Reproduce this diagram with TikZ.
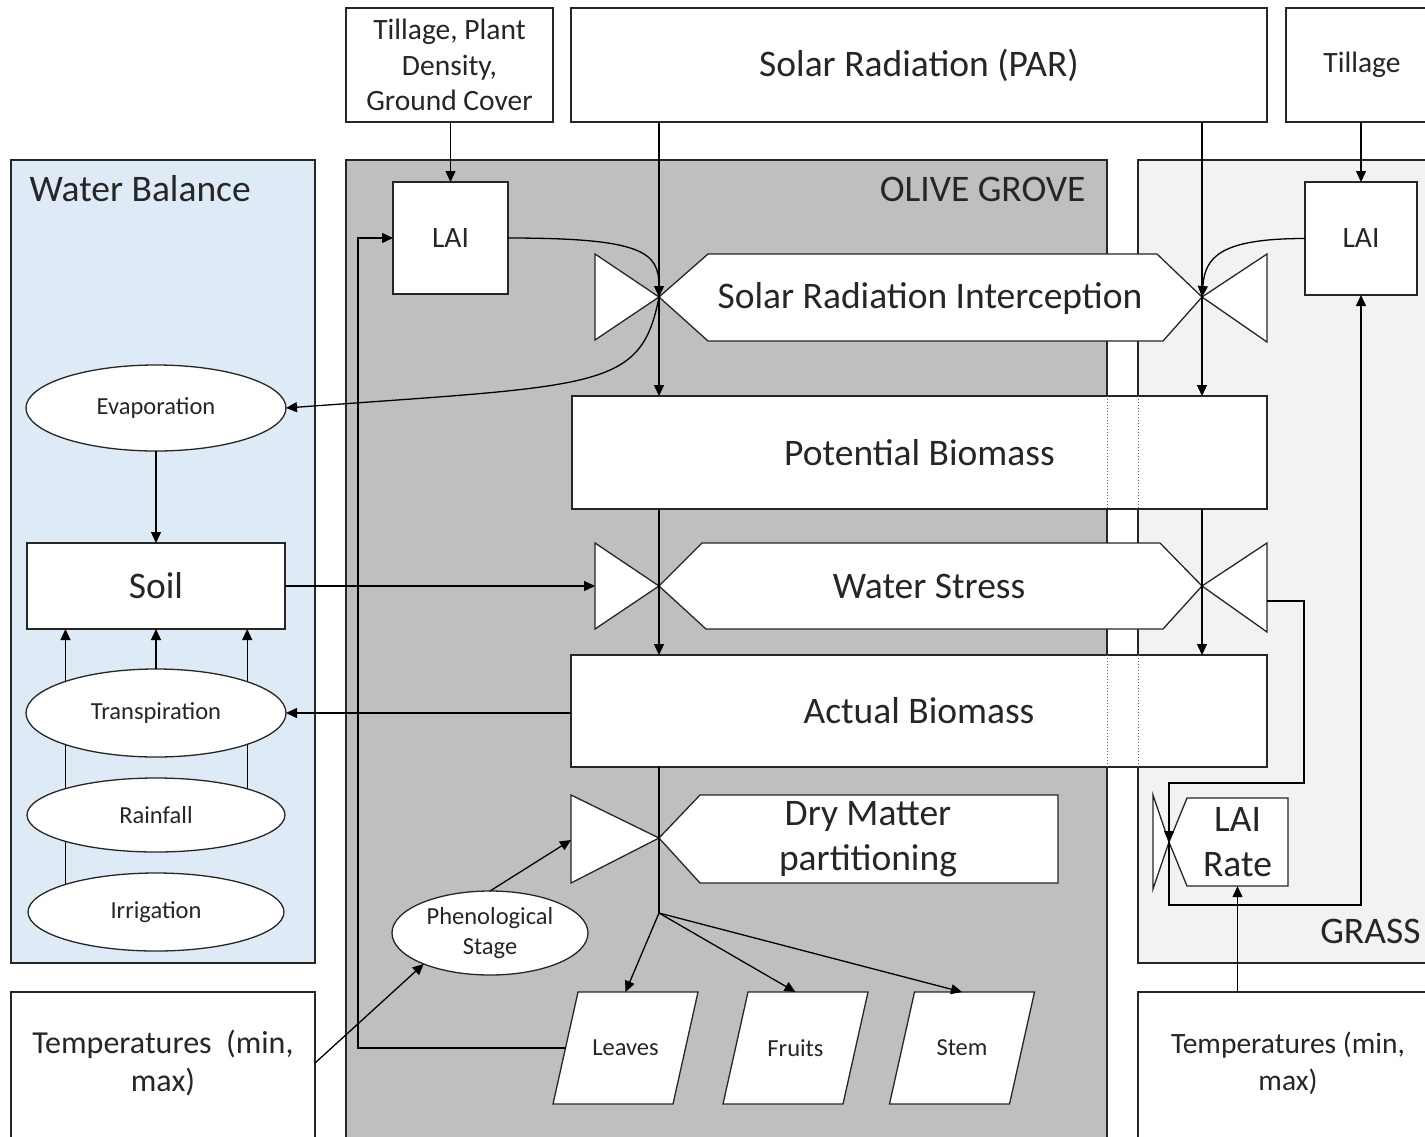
\documentclass[tikz,border=0pt]{standalone}
\usepackage{fontspec}
\setmainfont{Carlito}
\usetikzlibrary{shapes.geometric,arrows.meta}

\definecolor{waterfill}{HTML}{DEEBF7}
\definecolor{olivefill}{HTML}{BFBFBF}
\definecolor{grassfill}{HTML}{F2F2F2}
\definecolor{edge}{HTML}{262626}

\pgfdeclarelayer{panels}
\pgfdeclarelayer{wires}
\pgfsetlayers{panels,wires,main}

\tikzset{
	bigtext/.style={font=\fontsize{37.5}{45}\selectfont},
	midtext/.style={font=\fontsize{29.5}{35.5}\selectfont},
	smalltext/.style={font=\fontsize{24.5}{30}\selectfont},
	panel/.style={draw=edge, line width=1.3pt, inner sep=0pt, outer sep=0pt, anchor=north west},
	box/.style={draw=edge, fill=white, line width=1.3pt, inner sep=0pt, outer sep=0pt, align=center, anchor=north west},
	oval/.style={ellipse, draw=edge, fill=white, line width=1.3pt, inner sep=0pt, outer sep=0pt, align=center, smalltext},
	valve/.style={draw=edge, fill=white, line width=1.3pt, line join=miter},
	organ/.style={smalltext, minimum width=120pt, minimum height=112pt, inner sep=0pt, outer sep=0pt},
	flow/.style={-{Triangle[length=11pt,width=10pt]}, line width=1.3pt, draw=black},
	wire/.style={line width=1.3pt, draw=black},
	border/.style={dotted, line width=1pt, draw=black!60}
}

\begin{document}
\begin{tikzpicture}[x=1pt, y=-1pt, text=black!85]
	\useasboundingbox (0,0) rectangle (1425,1136);
	\clip (0,0) rectangle (1425,1136);

	\begin{pgfonlayer}{panels}
		\node[panel, fill=waterfill, minimum width=304pt, minimum height=803pt] (water) at (11,160) {};
		\node[panel, fill=olivefill, minimum width=761pt, minimum height=1000pt] (olive) at (346,160) {};
		\node[panel, fill=grassfill, minimum width=300pt, minimum height=803pt] (grass) at (1138,160) {};
	\end{pgfonlayer}
	\node[bigtext, anchor=west] (waterT) at (26,189) {Water Balance};
	\node[bigtext, anchor=east] (oliveT) at (1089,189) {OLIVE GROVE};
	\node[bigtext, anchor=east] (grassT) at (1424,931) {GRASS};

	\node[box, midtext, minimum width=207pt, minimum height=114pt] (tillO) at (346,8) {Tillage, Plant\\Density,\\Ground Cover};
	\node[box, bigtext, minimum width=696pt, minimum height=114pt] (solar) at (571,8) {Solar Radiation (PAR)};
	\node[box, midtext, minimum width=152pt, minimum height=114pt] (tillG) at (1286,8) {Tillage};

	\node[box, midtext, minimum width=115pt, minimum height=112pt] (laiO) at (393,182) {LAI};
	\node[box, midtext, minimum width=112pt, minimum height=113pt] (laiG) at (1305,182) {LAI};

	\node[oval, minimum width=260pt, minimum height=86pt] (evap) at (156,408) {Evaporation};
	\node[box, bigtext, minimum width=258pt, minimum height=86pt] (soil) at (27,543) {Soil};
	\node[oval, minimum width=260pt, minimum height=88pt] (trans) at (156,713) {Transpiration};
	\node[oval, minimum width=258pt, minimum height=74pt] (rain) at (156,815) {Rainfall};
	\node[oval, minimum width=256pt, minimum height=78pt] (irrig) at (156,912) {Irrigation};

	\node[box, minimum width=304pt, minimum height=200pt] (tempL) at (11,992) {};
	\node[font=\fontsize{32}{38}\selectfont, align=center] (tempLtxt) at (163,1063) {Temperatures \ (min,\\max)};
	\node[box, minimum width=300pt, minimum height=200pt] (tempR) at (1138,992) {};
	\node[font=\fontsize{29.5}{37}\selectfont, align=center] (tempRtxt) at (1288,1063) {Temperatures (min,\\max)};

	\node[box, bigtext, minimum width=695pt, minimum height=113pt] (pot) at (572,396) {Potential Biomass};
	\node[box, bigtext, minimum width=696pt, minimum height=112pt] (act) at (571,655) {Actual Biomass};

	\coordinate (sriC) at (659,297);
	\coordinate (sriR) at (1202,297);
	\draw[valve] (595,254) -- (595,340) -- (sriC) -- cycle;
	\draw[valve] (sriC) -- (708,254) -- (1157,254) -- (sriR) -- (1163,341) -- (708,341) -- cycle;
	\draw[valve] (1267,254) -- (1267,342) -- (sriR) -- cycle;
	\node[bigtext] (sri) at (930,298) {Solar Radiation Interception};

	\coordinate (wsC) at (659,586);
	\coordinate (wsR) at (1202,586);
	\coordinate (wsIn) at (595,586);
	\coordinate (wsOut) at (1267,601);
	\draw[valve] (595,543) -- (595,629) -- (wsC) -- cycle;
	\draw[valve] (wsC) -- (702,543) -- (1160,543) -- (wsR) -- (1163,629) -- (706,629) -- cycle;
	\draw[valve] (1267,543) -- (1267,632) -- (wsR) -- cycle;
	\node[bigtext] (ws) at (929,586) {Water Stress};

	\coordinate (dmC) at (659,838);
	\coordinate (dmIn) at (571,840);
	\draw[valve] (571,795) -- (571,883) -- (dmC) -- cycle;
	\draw[valve] (dmC) -- (700,795) -- (1058,795) -- (1058,883) -- (700,883) -- cycle;
	\node[bigtext, align=center] (dm) at (868,839) {Dry Matter\\partitioning};

	\coordinate (lrC) at (1169,842);
	\draw[valve] (1153,795) -- (1153,889) -- (lrC) -- cycle;
	\draw[valve] (lrC) -- (1187,798) -- (1288,798) -- (1288,886) -- (1187,886) -- cycle;
	\node[bigtext, align=center, minimum width=101pt, minimum height=88pt, inner sep=0pt] (lairate) at (1237.5,842) {LAI\\Rate};

	\node[oval, minimum width=196pt, minimum height=84pt] (pheno) at (490,933) {Phenological\\Stage};
	\foreach \n/\x/\t in {leaves/625.5/Leaves, fruits/795.5/Fruits, stem/962/Stem}{
		\draw[valve] (\x-72.5,1104) -- (\x-47.5,992) -- (\x+72.5,992) -- (\x+47.5,1104) -- cycle;
		\node[organ] (\n) at (\x,1048) {\t};
	}

	\coordinate (branch) at (659,913);
	\coordinate (loopL) at (358,1047);
	\coordinate (loopA) at (1304,783);
	\coordinate (loopB) at (1361,905);

	\begin{pgfonlayer}{wires}
		\draw[flow] (rain.north east) -- (rain.north east |- soil.south);
		\draw[flow] (irrig.north west) -- (irrig.north west |- soil.south);
	\end{pgfonlayer}
	\draw[flow] (evap) -- (soil);
	\draw[flow] (trans) -- (soil);
	\draw[flow] (soil.east) -- (wsIn);
	\draw[flow] (act.west |- trans.east) -- (trans.east);

	\draw[flow] (tillO.south -| laiO) -- (laiO.north);
	\draw[flow] (tillG.south -| laiG) -- (laiG.north);
	\draw[flow] (solar.south -| sriC) -- (pot.north -| sriC);
	\draw[flow] (solar.south -| sriR) -- (pot.north -| sriR);
	\draw[flow] (laiO.east) .. controls +(135,0) and +(0,-45) .. (sriC);
	\draw[flow] (laiG.west) .. controls +(-85,0) and +(3,-40) .. (sriR);
	\draw[flow] (sriC) .. controls (641,390) and (600,385) .. (evap.east);

	\draw[flow] (pot.south -| wsC) -- (act.north -| wsC);
	\draw[flow] (pot.south -| wsR) -- (act.north -| wsR);
	\draw[flow] (wsOut) -| (loopA) -| (lrC);
	\draw[flow] (lrC) |- (loopB) -- (laiG.south);
	\draw[flow] (tempR.north -| lairate) -- (lairate.south);

	\draw[wire] (act.south -| dmC) -- (branch);
	\draw[flow] (branch) -- (leaves.north);
	\draw[flow] (branch) -- (fruits.north);
	\draw[flow] (branch) -- (stem.north);
	\draw[flow] (pheno.north) -- (dmIn);
	\draw[flow] (tempL.east |- tempLtxt) -- (pheno.205);
	\draw[flow] (leaves.west) -| (loopL) |- (laiO.west);

	\foreach \b in {pot,act}{
		\draw[border] (\b.north -| olive.east) -- (\b.south -| olive.east);
		\draw[border] (\b.north -| grass.west) -- (\b.south -| grass.west);
	}
\end{tikzpicture}
\end{document}
